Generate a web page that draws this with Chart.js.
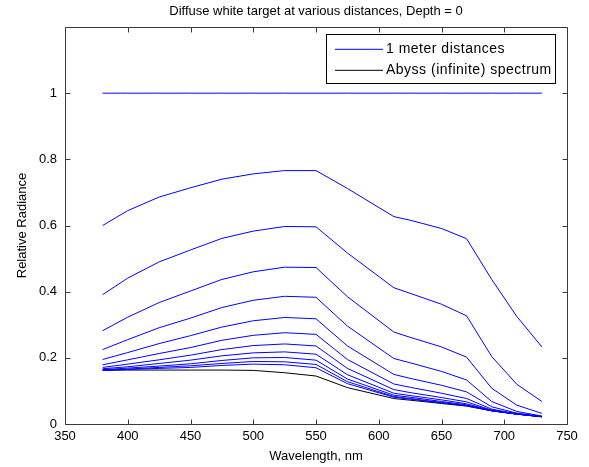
<!DOCTYPE html>
<html><head><meta charset="utf-8">
<script src="https://cdn.jsdelivr.net/npm/chart.js@4"></script>
<style>html,body{margin:0;padding:0;background:#fff}canvas{display:block}</style>
</head><body>
<canvas id="c" width="589" height="467"></canvas>
<script>
const wavelengths = [380,400,425,450,475,500,525,550,575,612,625,650,670,690,710,730];
const xTicks = [350,400,450,500,550,600,650,700,750];
const yTicks = [0,0.2,0.4,0.6,0.8,1];

const dist0  = [1,1,1,1,1,1,1,1,1,1,1,1,1,1,1,1];
const dist1  = [.600,.645,.686,.714,.740,.756,.766,.766,.712,.627,.616,.591,.560,.437,.325,.233];
const dist2  = [.391,.441,.490,.526,.561,.583,.597,.596,.517,.412,.395,.362,.327,.204,.120,.068];
const dist3  = [.282,.323,.367,.402,.437,.460,.474,.473,.385,.278,.262,.233,.202,.108,.057,.032];
const dist4  = [.225,.255,.291,.320,.352,.374,.386,.383,.296,.198,.185,.159,.133,.068,.038,.024];
const dist5  = [.195,.216,.243,.267,.293,.312,.322,.318,.236,.150,.138,.117,.097,.052,.033,.023];
const dist6  = [.179,.194,.213,.231,.253,.268,.276,.271,.195,.121,.111,.093,.077,.045,.031,.022];
const dist7  = [.171,.181,.194,.208,.225,.237,.242,.236,.168,.104,.095,.080,.067,.042,.030,.022];
const dist8  = [.167,.173,.183,.193,.206,.215,.218,.211,.149,.093,.086,.073,.061,.041,.030,.022];
const dist9  = [.164,.169,.175,.182,.192,.200,.201,.193,.136,.087,.081,.068,.058,.040,.030,.022];
const dist10 = [.163,.166,.171,.176,.183,.189,.188,.180,.128,.083,.077,.065,.056,.040,.030,.022];
const dist11 = [.163,.165,.168,.171,.177,.181,.179,.170,.122,.081,.075,.064,.055,.040,.030,.022];
const abyss  = [.162,.163,.163,.163,.163,.162,.155,.145,.110,.077,.072,.062,.054,.040,.030,.022];

const blueSeries = [dist0,dist1,dist2,dist3,dist4,dist5,dist6,dist7,dist8,dist9,dist10,dist11];
const legendLabels = ['1 meter distances','Abyss (infinite) spectrum'];

const FONT = "'Liberation Sans', Arial, Helvetica, sans-serif";
const FS = 13;
const frameColor = '#3a3a3a';

const toPts = vals => vals.map((v,j)=>({x:wavelengths[j], y:v}));
const datasets = blueSeries.map(vals => ({
  data: toPts(vals), borderColor:'#0000ff', borderWidth:1, pointRadius:0, tension:0, fill:false
}));
datasets.push({data: toPts(abyss), borderColor:'#000000', borderWidth:1, pointRadius:0, tension:0, fill:false});

const framePlugin = {
  id:'frame',
  afterDatasetsDraw(chart){
    const {ctx, chartArea:a, scales:{x,y}} = chart;
    ctx.save();
    ctx.strokeStyle = frameColor; ctx.lineWidth = 1;
    const L = Math.round(a.left)+0.5, R = Math.round(a.right)+0.5, T = Math.round(a.top)+0.5, B = Math.round(a.bottom)+0.5;
    ctx.beginPath();
    ctx.rect(L, T, R-L, B-T);
    xTicks.forEach(v=>{
      const px = Math.round(x.getPixelForValue(v))+0.5;
      ctx.moveTo(px,B); ctx.lineTo(px,B-5);
      ctx.moveTo(px,T); ctx.lineTo(px,T+5);
    });
    yTicks.forEach(v=>{
      const py = Math.round(y.getPixelForValue(v))+0.5;
      ctx.moveTo(L,py); ctx.lineTo(L+5,py);
      ctx.moveTo(R,py); ctx.lineTo(R-5,py);
    });
    ctx.stroke();
    // legend
    const bx=326.5, by=34.5, bw=229, bh=49;
    ctx.fillStyle='#fff'; ctx.fillRect(bx,by,bw,bh);
    ctx.strokeStyle='#000'; ctx.strokeRect(bx,by,bw,bh);
    const rows=[by+14.8, by+35.8];
    const cols=['#0000ff','#000000'];
    ctx.font = '14px '+FONT; ctx.textBaseline='middle'; ctx.textAlign='left';
    if ('letterSpacing' in ctx) ctx.letterSpacing = '0.5px';
    rows.forEach((ry,i)=>{
      ctx.strokeStyle=cols[i]; ctx.beginPath(); ctx.moveTo(335,ry); ctx.lineTo(383,ry); ctx.stroke();
      ctx.fillStyle='#000'; ctx.fillText(legendLabels[i], 386, ry);
    });
    ctx.restore();
  }
};

new Chart(document.getElementById('c'), {
  type:'line',
  data:{datasets},
  plugins:[framePlugin],
  options:{
    responsive:false, animation:false, devicePixelRatio:1,
    layout:{padding:{left:0,right:22,top:0,bottom:0}},
    plugins:{
      legend:{display:false}, tooltip:{enabled:false},
      title:{display:true, fullSize:false, text:'Diffuse white target at various distances, Depth = 0',
        color:'#000', font:{family:FONT,size:FS,weight:'normal'}, padding:{top:4,bottom:7.4}}
    },
    scales:{
      x:{type:'linear', min:350, max:750,
        afterBuildTicks(s){ s.ticks = xTicks.map(v=>({value:v})); },
        afterFit(s){ s.height = 43; },
        grid:{display:false, drawTicks:false}, border:{display:false},
        ticks:{color:'#000', padding:5, maxRotation:0, autoSkip:false, font:{family:FONT,size:FS}, callback:v=>String(v)},
        title:{display:true, text:'Wavelength, nm', color:'#000', font:{family:FONT,size:FS}, padding:{top:0,bottom:2.5}}
      },
      y:{type:'linear', min:0, max:1.2,
        afterBuildTicks(s){ s.ticks = yTicks.map(v=>({value:v})); },
        afterFit(s){ s.width = 65; },
        grid:{display:false, drawTicks:false}, border:{display:false},
        ticks:{color:'#000', padding:8, autoSkip:false, font:{family:FONT,size:FS}, callback:v=>String(Math.round(v*10)/10)},
        title:{display:true, text:'Relative Radiance', color:'#000', font:{family:FONT,size:FS}, padding:{top:14.5,bottom:0}}
      }
    }
  }
});
</script>
</body></html>
